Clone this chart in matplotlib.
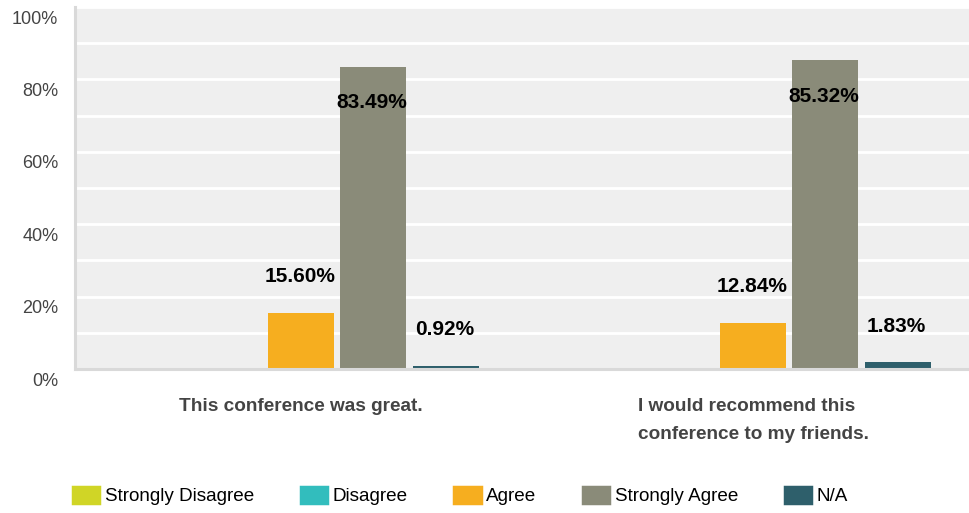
import numpy as np
import matplotlib
matplotlib.use("Agg")
import matplotlib.pyplot as plt
from matplotlib.patches import Patch
from matplotlib.transforms import ScaledTranslation

plt.rcParams['font.family'] = ['Liberation Sans', 'DejaVu Sans']

# data
questions = ["This conference was great.",
             "I would recommend this\nconference to my friends."]
answers = ["Strongly Disagree", "Disagree", "Agree", "Strongly Agree", "N/A"]
colors = ["#d0d526", "#32bdbd", "#f6ae1f", "#8a8b79", "#2e5f6b"]
strongly_disagree = [0.0, 0.0]
disagree = [0.0, 0.0]
agree = [15.60, 12.84]
strongly_agree = [83.49, 85.32]
not_applicable = [0.92, 1.83]
series = [strongly_disagree, disagree, agree, strongly_agree, not_applicable]

fig = plt.figure(figsize=(9.69, 5.13), dpi=100)
ax = fig.add_axes([75 / 969, 144 / 513, 904 / 969, 362 / 513])
ax.set_facecolor("#efefef")

x = np.arange(len(questions))
step = 0.16
width = 0.146
for i, (vals, col) in enumerate(zip(series, colors)):
    pos = x + (i - 2) * step
    ax.bar(pos, vals, width=width, color=col, zorder=3)
    for px, v in zip(pos, vals):
        if v <= 0:
            continue
        if v > 50:
            off = -26
        else:
            off = 26
        ax.annotate(f"{v:.2f}%", (px, v), xytext=(-1, off), textcoords="offset points",
                    ha="center", va="center", fontsize=15, fontweight="bold",
                    color="black", zorder=4)

ax.set_xlim(-0.5, 1.5)
ax.set_ylim(0, 100)
ax.set_yticks(np.arange(0, 101, 20))
ax.set_yticks(np.arange(0, 101, 10), minor=True)
ax.set_yticklabels([f"{t}%" for t in range(0, 101, 20)], fontsize=13, color="#444444")
ax.grid(axis="y", which="both", color="white", linewidth=2, zorder=1)
ax.tick_params(axis="y", which="both", length=0, pad=12)
ax.tick_params(axis="x", length=0, pad=21)
ax.set_xticks(x)
ax.set_xticklabels(questions, fontsize=13.7, fontweight="bold", color="#444444",
                   multialignment="left", linespacing=1.85)

for lab in ax.get_yticklabels():
    lab.set_transform(lab.get_transform() + ScaledTranslation(0, -10 / 100, fig.dpi_scale_trans))

for s in ["top", "right"]:
    ax.spines[s].set_visible(False)
for s in ["left", "bottom"]:
    ax.spines[s].set_color("#d9d9d9")
    ax.spines[s].set_linewidth(2.2)
    ax.spines[s].set_zorder(5)

handles = [Patch(facecolor=c, edgecolor=c, linewidth=2.5, joinstyle="round", label=a)
           for a, c in zip(answers, colors)]
fig.legend(handles=handles, loc="center left", bbox_to_anchor=(73 / 969, 17 / 513),
           ncol=5, frameon=False, fontsize=13.6, handlelength=1.4, handleheight=1.0,
           handletextpad=0.3, columnspacing=2.45, borderpad=0, borderaxespad=0)

fig.savefig("out.png", dpi=100)
